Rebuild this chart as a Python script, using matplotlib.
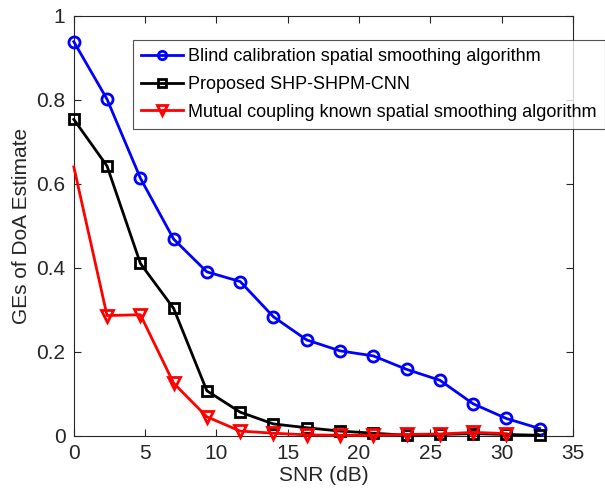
import matplotlib
matplotlib.use("Agg")
import matplotlib.pyplot as plt

plt.rcParams['font.family'] = ['Liberation Sans', 'DejaVu Sans']

snr = [0, 2.33, 4.67, 7.0, 9.33, 11.67, 14.0, 16.33, 18.67, 21.0, 23.33, 25.67, 28.0, 30.33, 32.67]
blind = [0.938, 0.801, 0.613, 0.468, 0.390, 0.367, 0.283, 0.228, 0.202, 0.190, 0.158, 0.132, 0.076, 0.041, 0.017]
proposed = [0.753, 0.642, 0.410, 0.303, 0.107, 0.056, 0.028, 0.019, 0.011, 0.006, 0.001, 0.003, 0.005, 0.003, 0.001]
known = [0.640, 0.286, 0.288, 0.125, 0.045, 0.011, 0.006, 0.002, 0.001, 0.001, 0.003, 0.004, 0.008, 0.005]

labels = ["Blind calibration spatial smoothing algorithm",
          "Proposed SHP-SHPM-CNN",
          "Mutual coupling known spatial smoothing algorithm"]

fig = plt.figure(figsize=(6.05, 5.04), dpi=100)
ax = fig.add_axes([0.122, 0.1355, 0.825, 0.8335])

ax.plot(snr, blind, color='#0000ff', lw=2, marker='o', ms=8, mew=2,
        mfc='none', label=labels[0], clip_on=False, zorder=3)
ax.plot(snr, proposed, color='black', lw=2, marker='s', ms=7, mew=2,
        mfc='none', label=labels[1], clip_on=False, zorder=3)
ax.plot(snr[:len(known)], known, color='#ff0000', lw=2, marker='v', ms=9, mew=2,
        mfc='none', markevery=list(range(1, len(known))), label=labels[2],
        clip_on=False, zorder=4)

ax.set_xlim(0, 35)
ax.set_ylim(0, 1)
ax.set_xticks([0, 5, 10, 15, 20, 25, 30, 35])
ax.set_yticks([0, 0.2, 0.4, 0.6, 0.8, 1])
ax.set_yticklabels(['0', '0.2', '0.4', '0.6', '0.8', '1'])
ax.tick_params(direction='in', top=True, right=True, length=5, width=0.8,
               labelsize=15, colors='#262626', pad=6)
for s in ax.spines.values():
    s.set_color('#262626')
    s.set_linewidth(0.8)

ax.set_xlabel('SNR (dB)', fontsize=15, color='#262626', labelpad=2)
ax.set_ylabel('GEs of DoA Estimate', fontsize=15, color='#262626', labelpad=4)

leg = ax.legend(loc='upper left', bbox_to_anchor=(133/605, 1 - 40/504),
                bbox_transform=fig.transFigure, fontsize=13, frameon=True,
                fancybox=False, borderaxespad=0, handlelength=2.3,
                handletextpad=0.3, borderpad=0.45, labelspacing=0.6,
                markerscale=0.75)
leg.get_frame().set_edgecolor('#262626')
leg.get_frame().set_linewidth(0.8)
for t in leg.get_texts():
    t.set_color('black')

fig.savefig('out.png', dpi=100)
